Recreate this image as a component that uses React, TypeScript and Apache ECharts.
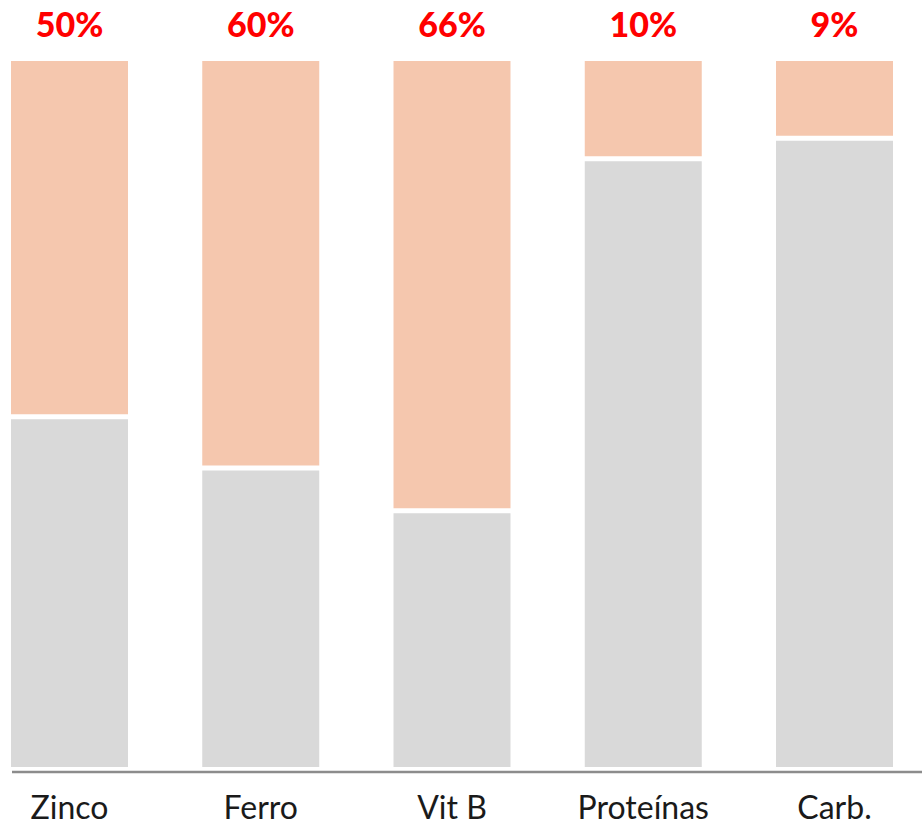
import React, { useEffect, useRef } from "react";
import * as echarts from "echarts";

const categories = ["Zinco", "Ferro", "Vit B", "Proteínas", "Carb."];
const grayValues = [49.6, 42.4, 36.4, 85.9, 88.8];
const peachValues = [50.4, 57.6, 63.6, 14.1, 11.2];
const pctLabels = ["50%", "60%", "66%", "10%", "9%"];

export default function App() {
  const ref = useRef<HTMLDivElement>(null);
  useEffect(() => {
    if (!ref.current) return;
    const chart = echarts.init(ref.current, null, { renderer: "svg" });
    chart.setOption({
      animation: false,
      backgroundColor: "#ffffff",
      grid: { left: 69.5, right: 87.5, top: 58.5, bottom: 56.5, containLabel: false },
      xAxis: {
        type: "category",
        data: categories,
        boundaryGap: false,
        axisLine: { show: false },
        axisTick: { show: false },
        axisLabel: {
          margin: 22,
          fontFamily: "Lato",
          fontSize: 32,
          lineHeight: 30,
          color: "#1a1a1a",
        },
      },
      yAxis: { type: "value", min: 0, max: 100, show: false },
      graphic: [
        {
          type: "line",
          shape: { x1: 12, y1: 772, x2: 922, y2: 772 },
          style: { stroke: "#8c8c8c", lineWidth: 2.5 },
          z: 10,
        },
      ],
      series: [
        {
          type: "bar",
          stack: "t",
          clip: false,
          data: grayValues,
          barWidth: 122,
          itemStyle: { color: "#D9D9D9", borderColor: "#ffffff", borderWidth: 2.5 },
        },
        {
          type: "bar",
          stack: "t",
          clip: false,
          data: peachValues,
          barWidth: 122,
          itemStyle: { color: "#F5C7AE", borderColor: "#ffffff", borderWidth: 2.5 },
          label: {
            show: true,
            position: "top",
            distance: 18,
            formatter: (p: any) => pctLabels[p.dataIndex],
            fontFamily: "Lato",
            fontWeight: 900,
            fontSize: 34,
            color: "#FF0000",
          },
        },
      ],
    });
    return () => chart.dispose();
  }, []);
  return (
    <div
      ref={ref}
      style={{ position: "fixed", left: 0, top: 0, width: 922, height: 826 }}
    />
  );
}
